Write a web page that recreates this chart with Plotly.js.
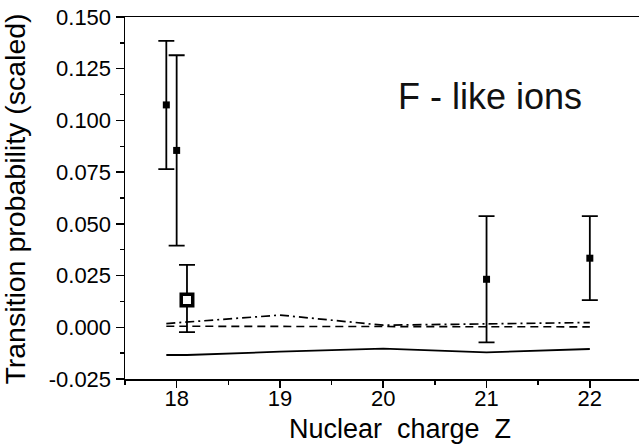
<!DOCTYPE html>
<html>
<head>
<meta charset="utf-8">
<script src="https://cdn.plot.ly/plotly-3.0.1.min.js"></script>
<style>html,body{margin:0;padding:0;background:#fff;}#chart{width:639px;height:445px;}</style>
</head>
<body>
<div id="chart"></div>
<script>
// Experimental points (filled squares)
var expZ = [17.9, 18.0, 21.0, 22.0];
var expP = [0.1075, 0.0855, 0.0232, 0.0334];
var expErr = [0.031, 0.046, 0.0305, 0.0203];

// Second experiment (open square)
var exp2Z = [18.1];
var exp2P = [0.0132];
var exp2ErrPlus = [0.0170];
var exp2ErrMinus = [0.0155];

// Theory curves
var thZ = [17.9, 18.1, 19, 20, 21, 22];
var thSolid = [-0.0134, -0.0134, -0.0118, -0.0103, -0.0121, -0.0105];
var thDash = [0.0005, 0.0005, 0.0003, 0.0002, 0.0002, 0.0002];
var thDashDot = [0.0018, 0.0026, 0.0059, 0.0010, 0.0018, 0.0023];

var xTicks = [18, 19, 20, 21, 22];
var yTicks = [-0.025, 0.000, 0.025, 0.050, 0.075, 0.100, 0.125, 0.150];
var yTickText = ['-0.025', '0.000', '0.025', '0.050', '0.075', '0.100', '0.125', '0.150'];

var xTitle = 'Nuclear\u00A0\u00A0charge\u00A0\u00A0Z';
var yTitle = 'Transition probability (scaled)';
var label = 'F - like ions';

var lineCol = '#000';
var traces = [
  {x: thZ, y: thSolid, mode: 'lines', line: {color: lineCol, width: 1.8}, hoverinfo: 'skip'},
  {x: thZ, y: thDash, mode: 'lines', line: {color: lineCol, width: 1.6, dash: '8px,5px'}, hoverinfo: 'skip'},
  {x: thZ, y: thDashDot, mode: 'lines', line: {color: lineCol, width: 1.7, dash: '9px,4px,2px,4px'}, hoverinfo: 'skip'},
  {x: expZ, y: expP, mode: 'markers', type: 'scatter',
   marker: {symbol: 'square', size: 7, color: '#000'},
   error_y: {type: 'data', array: expErr, visible: true, color: '#000', thickness: 1.8, width: 8}},
  {x: exp2Z, y: exp2P, mode: 'markers', type: 'scatter',
   marker: {symbol: 'square', size: 11.5, color: '#fff', line: {color: '#000', width: 3.5}},
   error_y: {type: 'data', symmetric: false, array: exp2ErrPlus, arrayminus: exp2ErrMinus, visible: true, color: '#000', thickness: 1.8, width: 8}}
];

var layout = {
  width: 639, height: 445,
  margin: {l: 125, r: 0, t: 17, b: 66},
  showlegend: false,
  paper_bgcolor: '#fff', plot_bgcolor: '#fff',
  font: {family: 'Liberation Sans, Arial, sans-serif', color: '#000'},
  xaxis: {
    range: [17.5, 22.476], tickvals: xTicks, ticktext: xTicks.map(String),
    showgrid: false, zeroline: false, showline: true, linecolor: '#000', linewidth: 1.5,
    mirror: true, ticks: 'outside', ticklen: 7, tickwidth: 1.5, tickcolor: '#000',
    tickfont: {size: 22}, ticklabelstandoff: -8,
    minor: {dtick: 0.5, tick0: 17.5, ticks: 'outside', ticklen: 4, tickwidth: 1.5, tickcolor: '#000'}
  },
  yaxis: {
    range: [-0.025, 0.150], tickvals: yTicks, ticktext: yTickText,
    showgrid: false, zeroline: false, showline: true, linecolor: '#000', linewidth: 1.5,
    ticks: 'outside', ticklen: 8, tickwidth: 1.5, tickcolor: '#000',
    tickfont: {size: 22},
    minor: {dtick: 0.0125, tick0: -0.025, ticks: 'outside', ticklen: 4, tickwidth: 1.5, tickcolor: '#000'}
  },
  annotations: [
    {x: 21.03, y: 0.1115, xref: 'x', yref: 'y', text: label, showarrow: false,
     font: {size: 36, color: '#111'}, xanchor: 'center', yanchor: 'middle'},
    {x: 0.535, y: -0.137, xref: 'paper', yref: 'paper', text: xTitle, showarrow: false,
     font: {size: 27, color: '#000'}, xanchor: 'center', yanchor: 'middle'},
    {x: -0.213, y: 0.497, xref: 'paper', yref: 'paper', text: yTitle, showarrow: false, textangle: -90,
     font: {size: 28.5, color: '#000'}, xanchor: 'center', yanchor: 'middle'}
  ]
};

Plotly.newPlot('chart', traces, layout, {displayModeBar: false, staticPlot: true});
</script>
</body>
</html>
